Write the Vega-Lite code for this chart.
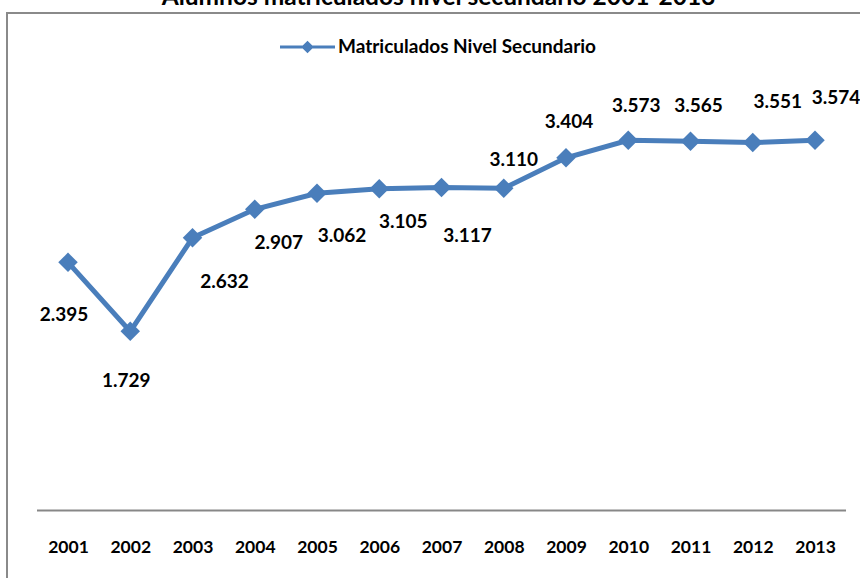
{
  "$schema": "https://vega.github.io/schema/vega-lite/v6.json",
  "width": 863,
  "height": 587,
  "autosize": {"type": "none"},
  "padding": {"left": 7, "top": 13, "right": 0, "bottom": 0},
  "background": "white",
  "title": {
    "text": "Alumnos matriculados nivel secundario 2001-2013",
    "anchor": "middle",
    "font": "Lato",
    "fontSize": 24.5,
    "fontWeight": "bold",
    "color": "black",
    "baseline": "alphabetic",
    "offset": -16
  },
  "config": {
    "font": "Lato",
    "locale": {"number": {"decimal": ",", "thousands": ".", "grouping": [3], "currency": ["$", ""]}},
    "view": {"stroke": "#8a8a8a", "strokeWidth": 2},
    "text": {"font": "Lato", "fontSize": 19, "fontWeight": "bold", "fill": "black", "baseline": "middle", "align": "center"}
  },
  "data": {
    "values": [
      {"anio": "2001", "valor": 2395, "serie": "Matriculados Nivel Secundario"},
      {"anio": "2002", "valor": 1729, "serie": "Matriculados Nivel Secundario"},
      {"anio": "2003", "valor": 2632, "serie": "Matriculados Nivel Secundario"},
      {"anio": "2004", "valor": 2907, "serie": "Matriculados Nivel Secundario"},
      {"anio": "2005", "valor": 3062, "serie": "Matriculados Nivel Secundario"},
      {"anio": "2006", "valor": 3105, "serie": "Matriculados Nivel Secundario"},
      {"anio": "2007", "valor": 3117, "serie": "Matriculados Nivel Secundario"},
      {"anio": "2008", "valor": 3110, "serie": "Matriculados Nivel Secundario"},
      {"anio": "2009", "valor": 3404, "serie": "Matriculados Nivel Secundario"},
      {"anio": "2010", "valor": 3573, "serie": "Matriculados Nivel Secundario"},
      {"anio": "2011", "valor": 3565, "serie": "Matriculados Nivel Secundario"},
      {"anio": "2012", "valor": 3551, "serie": "Matriculados Nivel Secundario"},
      {"anio": "2013", "valor": 3574, "serie": "Matriculados Nivel Secundario"}
    ]
  },
  "encoding": {
    "x": {
      "field": "anio",
      "type": "ordinal",
      "scale": {"type": "point", "padding": 0.9316, "align": 0.526},
      "axis": {
        "title": null,
        "orient": "bottom",
        "offset": -89.5,
        "domain": false,
        "ticks": false,
        "tickSize": 0,
        "grid": false,
        "labelPadding": 36.5,
        "labelBaseline": "middle",
        "labelAngle": 0,
        "labelFont": "Lato",
        "labelFontSize": 17.5,
        "labelFontWeight": "bold",
        "labelColor": "black"
      }
    },
    "y": {
      "field": "valor",
      "type": "quantitative",
      "scale": {"domain": [-864, 4802], "nice": false, "zero": false},
      "axis": null
    }
  },
  "layer": [
    {
      "transform": [{"filter": {"field": "anio", "equal": "2001"}}],
      "mark": {"type": "rule", "color": "#878787", "strokeWidth": 2, "xOffset": -31, "x2Offset": 31},
      "encoding": {
        "x": {"datum": "2001", "type": "ordinal"},
        "x2": {"datum": "2013"},
        "y": {"datum": 0, "type": "quantitative"}
      }
    },
    {
      "mark": {"type": "line", "strokeWidth": 5},
      "encoding": {
        "color": {
          "field": "serie",
          "type": "nominal",
          "scale": {"domain": ["Matriculados Nivel Secundario"], "range": ["#4a7ebb"]},
          "legend": {
            "title": null,
            "orient": "none",
            "legendX": 273,
            "legendY": 6.5,
            "padding": 0,
            "labelFont": "Lato",
            "labelFontSize": 19,
            "labelFontWeight": "bold",
            "labelColor": "black",
            "labelOffset": 3,
            "labelLimit": 0,
            "symbolType": "M-1,-0.055H1V0.055H-1Z M-0.23,0L0,-0.23L0.23,0L0,0.23Z",
            "symbolSize": 3025,
            "encode": {
              "symbols": {
                "update": {
                  "fill": {"value": "#4a7ebb"},
                  "stroke": {"value": "transparent"},
                  "strokeWidth": {"value": 0},
                  "opacity": {"value": 1}
                }
              }
            }
          }
        }
      }
    },
    {
      "mark": {"type": "point", "shape": "diamond", "filled": true, "size": 380, "opacity": 1, "color": "#4a7ebb"}
    },
    {
      "transform": [{"filter": {"field": "anio", "equal": "2001"}}],
      "mark": {"type": "text", "dx": -4, "dy": 53},
      "encoding": {"text": {"field": "valor", "type": "quantitative", "format": ",d"}}
    },
    {
      "transform": [{"filter": {"field": "anio", "equal": "2002"}}],
      "mark": {"type": "text", "dx": -4, "dy": 50},
      "encoding": {"text": {"field": "valor", "type": "quantitative", "format": ",d"}}
    },
    {
      "transform": [{"filter": {"field": "anio", "equal": "2003"}}],
      "mark": {"type": "text", "dx": 32, "dy": 44},
      "encoding": {"text": {"field": "valor", "type": "quantitative", "format": ",d"}}
    },
    {
      "transform": [{"filter": {"field": "anio", "equal": "2004"}}],
      "mark": {"type": "text", "dx": 24, "dy": 34},
      "encoding": {"text": {"field": "valor", "type": "quantitative", "format": ",d"}}
    },
    {
      "transform": [{"filter": {"field": "anio", "equal": "2005"}}],
      "mark": {"type": "text", "dx": 25, "dy": 43},
      "encoding": {"text": {"field": "valor", "type": "quantitative", "format": ",d"}}
    },
    {
      "transform": [{"filter": {"field": "anio", "equal": "2006"}}],
      "mark": {"type": "text", "dx": 24, "dy": 33},
      "encoding": {"text": {"field": "valor", "type": "quantitative", "format": ",d"}}
    },
    {
      "transform": [{"filter": {"field": "anio", "equal": "2007"}}],
      "mark": {"type": "text", "dx": 26, "dy": 48},
      "encoding": {"text": {"field": "valor", "type": "quantitative", "format": ",d"}}
    },
    {
      "transform": [{"filter": {"field": "anio", "equal": "2008"}}],
      "mark": {"type": "text", "dx": 10, "dy": -28},
      "encoding": {"text": {"field": "valor", "type": "quantitative", "format": ",d"}}
    },
    {
      "transform": [{"filter": {"field": "anio", "equal": "2009"}}],
      "mark": {"type": "text", "dx": 3, "dy": -36},
      "encoding": {"text": {"field": "valor", "type": "quantitative", "format": ",d"}}
    },
    {
      "transform": [{"filter": {"field": "anio", "equal": "2010"}}],
      "mark": {"type": "text", "dx": 8, "dy": -34},
      "encoding": {"text": {"field": "valor", "type": "quantitative", "format": ",d"}}
    },
    {
      "transform": [{"filter": {"field": "anio", "equal": "2011"}}],
      "mark": {"type": "text", "dx": 8, "dy": -35},
      "encoding": {"text": {"field": "valor", "type": "quantitative", "format": ",d"}}
    },
    {
      "transform": [{"filter": {"field": "anio", "equal": "2012"}}],
      "mark": {"type": "text", "dx": 25, "dy": -41},
      "encoding": {"text": {"field": "valor", "type": "quantitative", "format": ",d"}}
    },
    {
      "transform": [{"filter": {"field": "anio", "equal": "2013"}}],
      "mark": {"type": "text", "dx": 21, "dy": -42},
      "encoding": {"text": {"field": "valor", "type": "quantitative", "format": ",d"}}
    }
  ]
}
